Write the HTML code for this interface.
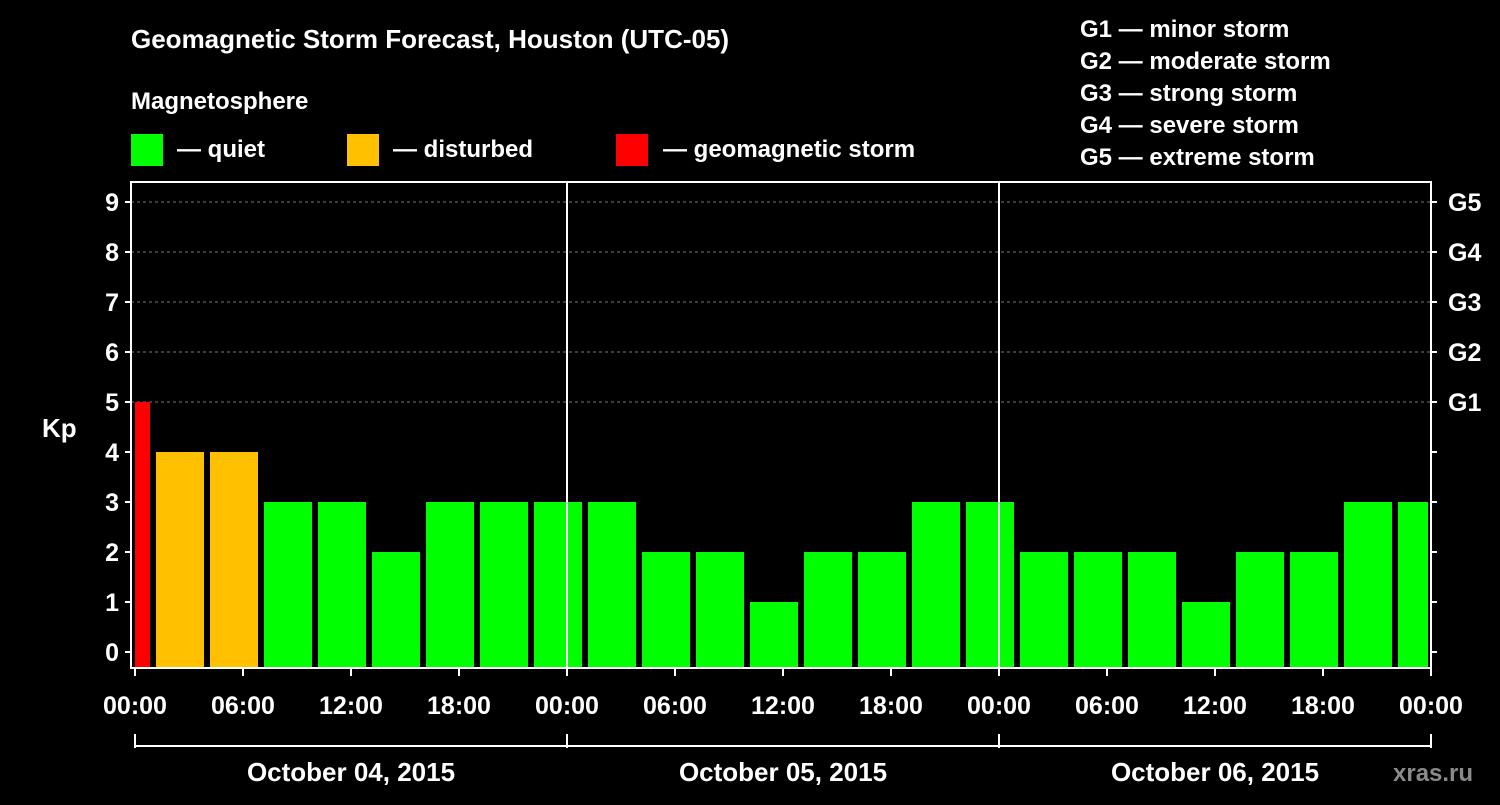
<!DOCTYPE html>
<html><head><meta charset="utf-8"><style>
body{margin:0;background:#000;width:1500px;height:800px;overflow:hidden}
svg text{font-family:"Liberation Sans",sans-serif;font-weight:bold;fill:#fff}
</style></head><body>
<svg id="c" width="1500" height="800">
<text x="131" y="48" font-size="26">Geomagnetic Storm Forecast, Houston (UTC-05)</text>
<text x="131" y="109" font-size="24">Magnetosphere</text>
<rect x="131" y="134" width="32" height="32" fill="#00ff00"/>
<text x="177" y="157" font-size="24">— quiet</text>
<rect x="347" y="134" width="32" height="32" fill="#ffc000"/>
<text x="393" y="157" font-size="24">— disturbed</text>
<rect x="616" y="134" width="32" height="32" fill="#ff0000"/>
<text x="663" y="157" font-size="24">— geomagnetic storm</text>
<text x="1080" y="37" font-size="24">G1 — minor storm</text>
<text x="1080" y="69" font-size="24">G2 — moderate storm</text>
<text x="1080" y="101" font-size="24">G3 — strong storm</text>
<text x="1080" y="133" font-size="24">G4 — severe storm</text>
<text x="1080" y="165" font-size="24">G5 — extreme storm</text>
<text x="42" y="437" font-size="26">Kp</text>
<text x="1393" y="781" font-size="24" fill="#888" style="fill:#8a8a8a">xras.ru</text>
<g id="plot"></g>
</svg>
<script>
const values=[5,4,4,3,3,2,3,3,3,3,2,2,1,2,2,3,3,2,2,2,1,2,2,3,3];
const startHours=[0,1,4,7,10,13,16,19,22,25,28,31,34,37,40,43,46,49,52,55,58,61,64,67,70];
const endHours=[1,4,7,10,13,16,19,22,25,28,31,34,37,40,43,46,49,52,55,58,61,64,67,70,72];
const yTicks=[0,1,2,3,4,5,6,7,8,9];
const gLabels=["G1","G2","G3","G4","G5"];
const xLabels=["00:00","06:00","12:00","18:00","00:00","06:00","12:00","18:00","00:00","06:00","12:00","18:00","00:00"];
const dates=["October 04, 2015","October 05, 2015","October 06, 2015"];
const NS="http://www.w3.org/2000/svg";
const X0=135,HPX=18,L=131,R=1431,T=182,B=668;
const x=h=>X0+h*HPX;
const y=v=>652-v*50;
const g=document.getElementById('plot');
function mk(t,a,p){const e=document.createElementNS(NS,t);for(const k in a)e.setAttribute(k,a[k]);(p||g).appendChild(e);return e;}
// grid
for(let v=5;v<=9;v++){const e=mk('line',{x1:L,x2:R,y1:y(v),y2:y(v),stroke:'#777','stroke-dasharray':'3,3'});

}
// bars
values.forEach((v,i)=>{
 const s=startHours[i],en=endHours[i];
 const x1=s===0?x(s):x(s)+3, x2=en===72?x(en)-3:x(en)-3;
 const col=v>=5?'#ff0000':(v>=4?'#ffc000':'#00ff00');
 const e=mk('rect',{x:x1,y:y(v),width:x2-x1,height:B-y(v),fill:col});
 
 
});
// day separators
[24,48].forEach(h=>{const e=mk('line',{x1:x(h),x2:x(h),y1:T,y2:B,stroke:'#fff','stroke-width':2});

});
// frame
const fr=mk('rect',{x:L,y:T,width:R-L,height:B-T,fill:'none',stroke:'#fff','stroke-width':2});


// y ticks
yTicks.forEach(v=>{
 mk('line',{x1:L-6,x2:L,y1:y(v),y2:y(v),stroke:'#fff','stroke-width':2});
 mk('line',{x1:R,x2:R+6,y1:y(v),y2:y(v),stroke:'#fff','stroke-width':2});
 const t=mk('text',{x:L-12,y:y(v)+9,'font-size':25,'text-anchor':'end'});t.textContent=v;
 
 
});
gLabels.forEach((s,i)=>{const t=mk('text',{x:1448,y:y(5+i)+9,'font-size':25});t.textContent=s;

});
// x ticks
xLabels.forEach((s,i)=>{const h=i*6;
 mk('line',{x1:x(h),x2:x(h),y1:B,y2:B+8,stroke:'#fff','stroke-width':2});
 const t=mk('text',{x:x(h),y:714,'font-size':25,'text-anchor':'middle'});t.textContent=s;
 
 });
// date bracket
mk('line',{x1:x(0),x2:x(72),y1:746,y2:746,stroke:'#fff','stroke-width':2});
[0,24,48,72].forEach(h=>mk('line',{x1:x(h),x2:x(h),y1:734,y2:748,stroke:'#fff','stroke-width':2}));
dates.forEach((d,i)=>{const t=mk('text',{x:x(i*24+12),y:781,'font-size':26,'text-anchor':'middle'});t.textContent=d;

});
</script>
</body></html>
